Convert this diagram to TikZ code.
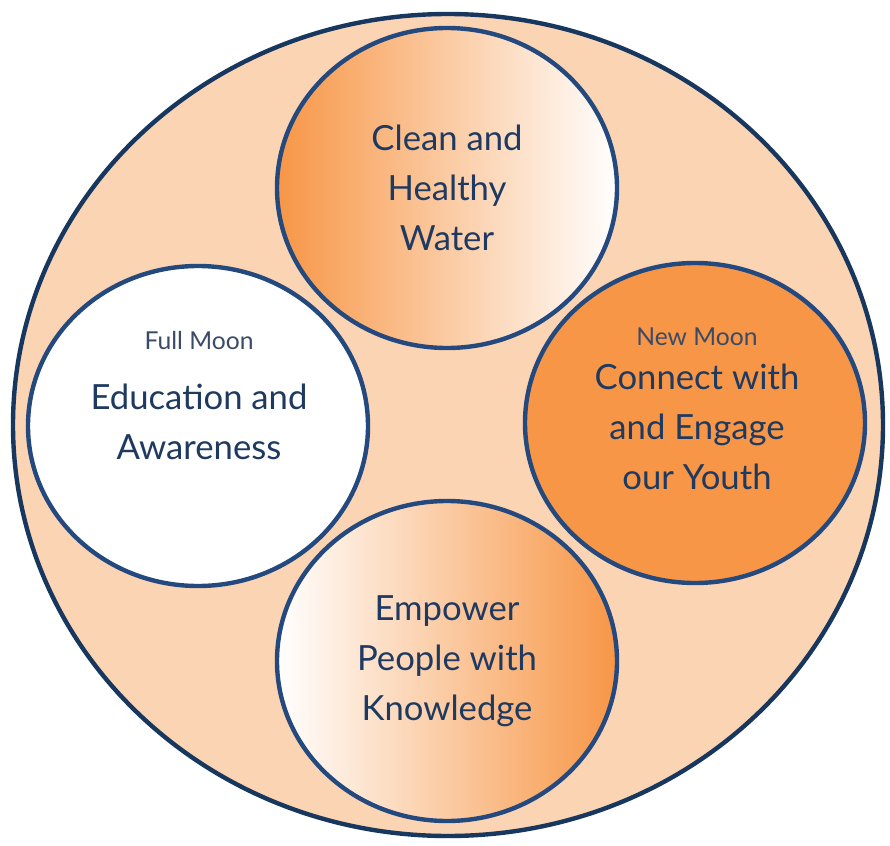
\documentclass[tikz,border=0pt]{standalone}
\usepackage{fontspec}
\setmainfont{Lato}
\usetikzlibrary{positioning,shapes.geometric}
\definecolor{moonorange}{HTML}{F79646}
\definecolor{moonpeach}{HTML}{FBD4B4}
\definecolor{rimblue}{HTML}{17375E}
\definecolor{ringblue}{HTML}{24497E}
\definecolor{inkblue}{HTML}{1F3A60}
\definecolor{greyink}{HTML}{3B4A66}
\tikzset{every picture/.style={line width=0.75pt}}

\begin{document}
\begin{tikzpicture}[x=0.75pt,y=0.75pt,yscale=-1,xscale=1,
  phase/.style={ellipse, draw=ringblue, line width=3.3pt, minimum width=255pt, minimum height=240pt, inner sep=0pt},
  words/.style={text=inkblue, align=center, inner sep=0.75pt, font=\fontsize{26}{37.5}\selectfont},
  moonname/.style={font=\fontsize{18.5}{20}\selectfont}]

\useasboundingbox (0,0) rectangle (890,846);

%Shape: Ellipse [outer pond]
\node[ellipse, draw=rimblue, fill=moonpeach, line width=3.3pt, inner sep=0pt, minimum width=652.5pt, minimum height=616.5pt] (pond) at (448,425) {};

%Shape: Ellipse [top]
\node[phase, left color=moonorange, right color=white, words] (water) at (447,188) {Clean and\\Healthy\\Water};
%Shape: Ellipse [left]
\node[phase, fill=white] (full) at (198,426) {};
%Shape: Ellipse [right]
\node[phase, fill=moonorange] (new) at (695,423) {};
%Shape: Ellipse [bottom]
\node[phase, left color=white, right color=moonorange, words] (know) at (447,661) {Empower\\People with\\Knowledge};

% Text Node
\node[words] (fulltxt) at (199,396) {{\color{greyink}\fontsize{18.5}{20}\selectfont Full Moon}\\[7.5pt]Education and\\Awareness};
% Text Node
\node[words] (newtxt) at (697,409) {{\color{greyink}\fontsize{18.5}{20}\selectfont New Moon}\\[-4.5pt]Connect with\\and Engage\\our Youth};

\end{tikzpicture}
\end{document}
